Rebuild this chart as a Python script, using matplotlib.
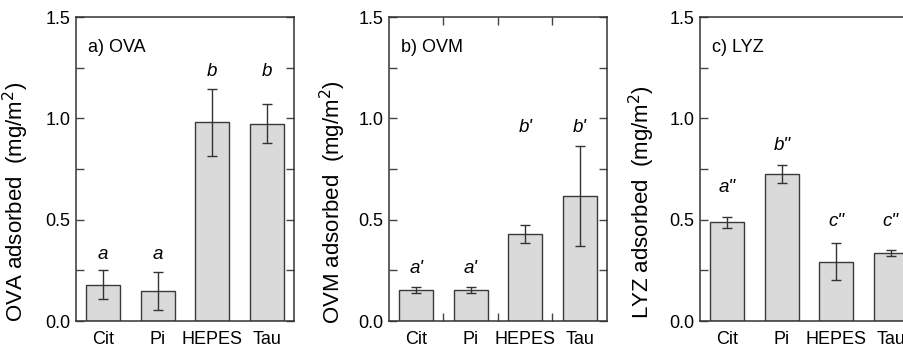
import matplotlib.pyplot as plt
from matplotlib.ticker import MultipleLocator

plt.rcParams['font.family'] = ['Liberation Sans', 'DejaVu Sans']
plt.rcParams['font.size'] = 13

buffers = ['Cit', 'Pi', 'HEPES', 'Tau']

ova = [0.18, 0.147, 0.98, 0.974]
ova_err = [0.07, 0.095, 0.165, 0.098]
ova_grp = ['a', 'a', 'b', 'b']

ovm = [0.153, 0.153, 0.428, 0.618]
ovm_err = [0.015, 0.015, 0.045, 0.247]
ovm_grp = ["a'", "a'", "b'", "b'"]

lyz = [0.487, 0.725, 0.293, 0.335]
lyz_err = [0.028, 0.044, 0.09, 0.013]
lyz_grp = ['a"', 'b"', 'c"', 'c"']

# title, protein, values, errors, letters, letter heights, x ticks between bars?
panels = [
    ('a) OVA', 'OVA', ova, ova_err, ova_grp, [0.326, 0.326, 1.23, 1.23], False),
    ('b) OVM', 'OVM', ovm, ovm_err, ovm_grp, [0.26, 0.26, 0.955, 0.955], True),
    ('c) LYZ', 'LYZ', lyz, lyz_err, lyz_grp, [0.658, 0.868, 0.493, 0.493], False),
]
lefts = [76 / 904, 389 / 904, 700 / 904]
label_x = [-0.205, -0.19, -0.198]

fig = plt.figure(figsize=(9.04, 3.54), dpi=100)
for left, lx, (title, prot, vals, errs, grp, ypos, xt) in zip(lefts, label_x, panels):
    ax = fig.add_axes([left, 33 / 354, 218 / 904, 304 / 354])
    x = range(len(buffers))
    ax.bar(x, vals, width=0.62, color='#dadada', edgecolor='#3a3a3a', linewidth=1.0, zorder=2)
    ax.errorbar(x, vals, yerr=errs, fmt='none', ecolor='#333333', elinewidth=1.0,
                capsize=3.5, capthick=1.0, zorder=3)
    for xi, g, yp in zip(x, grp, ypos):
        ax.text(xi, yp, g, ha='center', va='center', style='italic', fontsize=13.5)
    ax.text(0.055, 0.9, title, transform=ax.transAxes, ha='left', va='center', fontsize=13)
    ax.set_xlim(-0.5, 3.5)
    ax.set_ylim(0, 1.5)
    ax.yaxis.set_minor_locator(MultipleLocator(0.25))
    ax.set_yticks([0.0, 0.5, 1.0, 1.5])
    ax.set_yticklabels(['0.0', '0.5', '1.0', '1.5'])
    if xt:
        ax.set_xticks([0.5, 1.5, 2.5], minor=True)
    ax.set_xticks(list(x))
    ax.set_xticklabels(buffers)
    ax.tick_params(axis='x', which='major', length=0, pad=7)
    ax.tick_params(axis='x', which='minor', direction='in', top=True, bottom=True,
                   length=6, width=1, color='#444444')
    ax.tick_params(axis='y', which='both', direction='in', left=True, right=True,
                   length=6, width=1, color='#444444', pad=4)
    ax.set_ylabel(prot + ' adsorbed  (mg/m$^2$)', fontsize=16)
    ax.yaxis.set_label_coords(lx, 0.39)
    for s in ax.spines.values():
        s.set_linewidth(1.1)
        s.set_color('#333333')

fig.savefig('out.png', dpi=100)
